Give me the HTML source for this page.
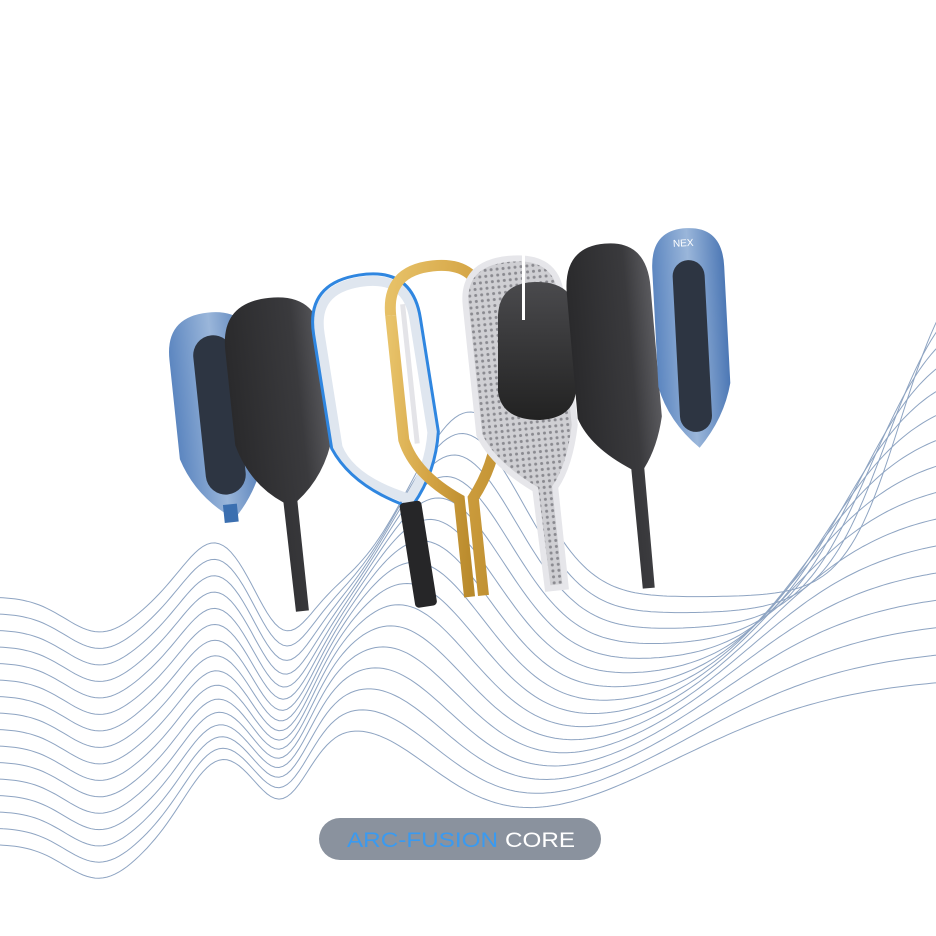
<!DOCTYPE html>
<html><head><meta charset="utf-8"><style>
html,body{margin:0;padding:0;background:#fff;width:936px;height:936px;overflow:hidden}
svg{display:block}
</style></head><body>
<svg id="s" width="936" height="936" viewBox="0 0 936 936" xmlns="http://www.w3.org/2000/svg">
<defs>
<linearGradient id="blk" x1="0" y1="0" x2="1" y2="0"><stop offset="0" stop-color="#2a2a2c"/><stop offset="0.7" stop-color="#3a3a3d"/><stop offset="1" stop-color="#5a5a5e"/></linearGradient>
<linearGradient id="blk2" x1="0" y1="0" x2="0" y2="1"><stop offset="0" stop-color="#4a4a4d"/><stop offset="1" stop-color="#222"/></linearGradient>
<linearGradient id="gold" x1="0" y1="0" x2="1" y2="1"><stop offset="0" stop-color="#e8c36a"/><stop offset="0.5" stop-color="#d4a444"/><stop offset="1" stop-color="#b98a2c"/></linearGradient>
<linearGradient id="bl" x1="0" y1="0" x2="1" y2="0"><stop offset="0" stop-color="#5c86c0"/><stop offset="0.5" stop-color="#9ab6da"/><stop offset="1" stop-color="#4d78b5"/></linearGradient>
<pattern id="carb" width="6" height="6" patternUnits="userSpaceOnUse"><rect width="6" height="6" fill="#cfcfd3"/><circle cx="3" cy="3" r="1.5" fill="#8a8a90"/></pattern>
</defs>
<g id="waves" fill="none" stroke="#8ea4c2" stroke-width="1"></g>

<g transform="rotate(-6 219 420)">
<path d="M176 355 Q176 312 219 312 Q262 312 262 355 L262 455 Q250 495 224 520 Q188 495 176 455 Z" fill="url(#bl)"/>
<rect x="200" y="335" width="40" height="160" rx="20" fill="#2d3542"/>
<rect x="214" y="505" width="14" height="18" fill="#3b6fb0"/>
</g>
<g transform="rotate(-6 285 450)">
<path d="M236 345 Q236 297 285 297 Q334 297 334 345 L334 440 Q322 480 292 502 L292 612 L279 612 L278 502 Q246 480 236 440 Z" fill="url(#blk)"/>
</g>
<g transform="rotate(-9 385 440)">
<path d="M337 325 Q337 280 385 280 Q433 280 433 325 L433 440 Q425 475 400 502 Q345 475 337 440 Z" fill="none" stroke="#dfe6ef" stroke-width="10"/>
<path d="M331 325 Q331 273 385 273 Q439 273 439 325 L439 440 Q430 480 403 508" fill="none" stroke="#2f86e0" stroke-width="3"/>
<path d="M331 325 L331 440 Q345 480 395 508" fill="none" stroke="#2f86e0" stroke-width="3"/>
<rect x="389" y="505" width="22" height="106" rx="4" fill="#262628"/>
</g>
<g transform="rotate(-6 450 430)">
<path d="M403 310 Q403 265 450 265 Q497 265 497 310 L497 435 Q490 470 466 500 L466 598" fill="none" stroke="url(#gold)" stroke-width="11"/>
<path d="M403 310 L403 435 Q410 470 452 500 L452 598" fill="none" stroke="url(#gold)" stroke-width="11"/>
<path d="M416 300 L416 440" stroke="#e4e4e8" stroke-width="5"/>
</g>
<g transform="rotate(-6 525 420)">
<path d="M478 300 Q478 258 525 258 Q574 258 574 300 L574 430 Q565 470 548 490 L548 590 L530 590 L528 490 Q488 460 478 430 Z" fill="url(#carb)" stroke="#e6e6ea" stroke-width="6"/>
</g>
<path d="M498 315 Q500 282 537 282 Q574 282 576 315 L576 390 Q574 418 540 420 Q502 420 498 392 Z" fill="url(#blk2)"/>
<rect x="522" y="255" width="3" height="65" fill="#fff"/>
<g transform="rotate(-5 620 420)">
<path d="M578 290 Q578 243 620 243 Q662 243 662 290 L662 420 Q655 450 640 470 L640 590 L628 590 L627 470 Q588 445 578 415 Z" fill="url(#blk)"/>
</g>
<g transform="rotate(-3 692 340)">
<path d="M656 268 Q656 228 692 228 Q728 228 728 268 L728 385 Q720 420 694 448 Q664 420 656 385 Z" fill="url(#bl)"/>
<rect x="676" y="260" width="32" height="172" rx="16" fill="#2d3542"/>
<text x="678" y="246" font-family="Liberation Sans, sans-serif" font-size="10" fill="#fff">NEX</text>
</g>

<rect x="319" y="818" width="282" height="42" rx="21" fill="#8a929e"/>
<text x="347" y="847" font-family="Liberation Sans, sans-serif" font-size="21" fill="#3a9af0" textLength="151" lengthAdjust="spacingAndGlyphs">ARC-FUSION</text>
<text x="505" y="847" font-family="Liberation Sans, sans-serif" font-size="21" fill="#fff" textLength="70" lengthAdjust="spacingAndGlyphs">CORE</text>
</svg>
<script>
(function(){
var g=document.getElementById('waves');
function ga(x,c,w){var t=(x-c)/w;return Math.exp(-t*t);}
function sg(x){return 1/(1+Math.exp(-x));}
var out='';
for(var i=0;i<16;i++){
 var d='';
 for(var x=-5;x<=940;x+=4){
  var B=597+16.5*i;
  var y=B+35*ga(x,100,50)-55*ga(x,215,45)+40*ga(x,285,35)
   -(185-5*i)*ga(x,470-8*i,85+2*i)
   -(350-12*i)*sg((x-(900-15*i))/(28+4*i));
  d+=(x<0?'M':'L')+x+','+y.toFixed(1)+' ';
 }
 out+='<path d="'+d+'"/>';
}
g.innerHTML=out;
})();
</script>
</body></html>
